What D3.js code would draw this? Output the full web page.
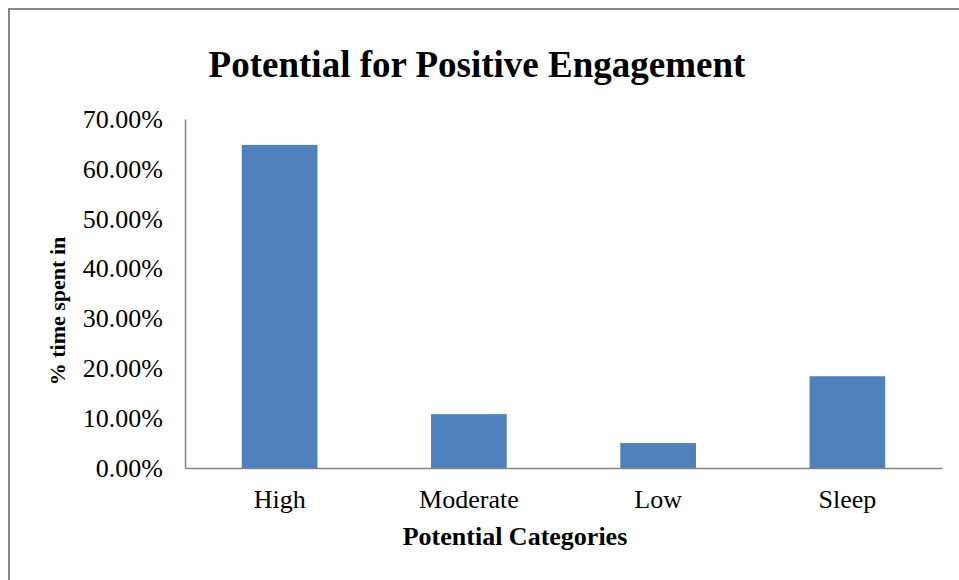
<!DOCTYPE html>
<html>
<head>
<meta charset="utf-8">
<script src="https://cdnjs.cloudflare.com/ajax/libs/d3/7.8.5/d3.min.js"></script>
<style>
  html, body { margin: 0; padding: 0; background: #fff; }
  svg { display: block; }
  text { font-family: "Liberation Serif", "Times New Roman", serif; fill: #000; }
</style>
</head>
<body>
<div id="chart"></div>
<script>
// data
const categories = ["High", "Moderate", "Low", "Sleep"];
const values = [0.648, 0.108, 0.050, 0.184];
const yTicks = [0, 0.1, 0.2, 0.3, 0.4, 0.5, 0.6, 0.7];

const width = 959, height = 580;
const margin = { top: 119, right: 17, bottom: 112, left: 185 };

const svg = d3.select("#chart").append("svg")
    .attr("width", width)
    .attr("height", height);

// outer chart border (only left and top show inside the frame)
svg.append("path")
    .attr("d", "M9,580V9H959")
    .attr("fill", "none")
    .attr("stroke", "#878787")
    .attr("stroke-width", 2);

const x = d3.scaleBand()
    .domain(categories)
    .range([margin.left, width - margin.right])
    .paddingInner(0.6)
    .paddingOuter(0.3);

const y = d3.scaleLinear()
    .domain([0, 0.7])
    .range([height - margin.bottom, margin.top]);

// bars
svg.selectAll(".bar")
    .data(values)
    .enter().append("rect")
    .attr("class", "bar")
    .attr("x", (d, i) => x(categories[i]))
    .attr("width", x.bandwidth())
    .attr("y", d => y(d))
    .attr("height", d => y(0) - y(d))
    .attr("fill", "#4F81BD");

// y axis
const yAxis = svg.append("g")
    .attr("transform", "translate(" + margin.left + ",0)")
    .call(d3.axisLeft(y).tickValues(yTicks).tickSize(0).tickPadding(22)
        .tickFormat(d => (d * 100).toFixed(2) + "%"));
yAxis.select(".domain").attr("stroke", "#868686").attr("stroke-width", 1.5);
yAxis.selectAll("text")
    .style("font-family", '"Liberation Serif", serif')
    .style("font-size", "26px")
    .attr("dy", ".32em");

// x axis
const xAxis = svg.append("g")
    .attr("transform", "translate(0," + y(0) + ")")
    .call(d3.axisBottom(x).tickSize(0).tickPadding(22));
xAxis.select(".domain").attr("stroke", "#868686").attr("stroke-width", 1.5);
xAxis.selectAll("text")
    .style("font-family", '"Liberation Serif", serif')
    .style("font-size", "26px")
    .attr("dy", ".71em");

// title
svg.append("text")
    .attr("x", 477)
    .attr("y", 77)
    .attr("text-anchor", "middle")
    .style("font-size", "37px")
    .style("font-weight", "bold")
    .text("Potential for Positive Engagement");

// axis titles
svg.append("text")
    .attr("x", 515)
    .attr("y", 545)
    .attr("text-anchor", "middle")
    .style("font-size", "26px")
    .style("font-weight", "bold")
    .text("Potential Categories");

svg.append("text")
    .attr("transform", "translate(65," + 311 + ") rotate(-90)")
    .attr("text-anchor", "middle")
    .style("font-size", "22px")
    .style("font-weight", "bold")
    .text("% time spent in");
</script>
</body>
</html>
